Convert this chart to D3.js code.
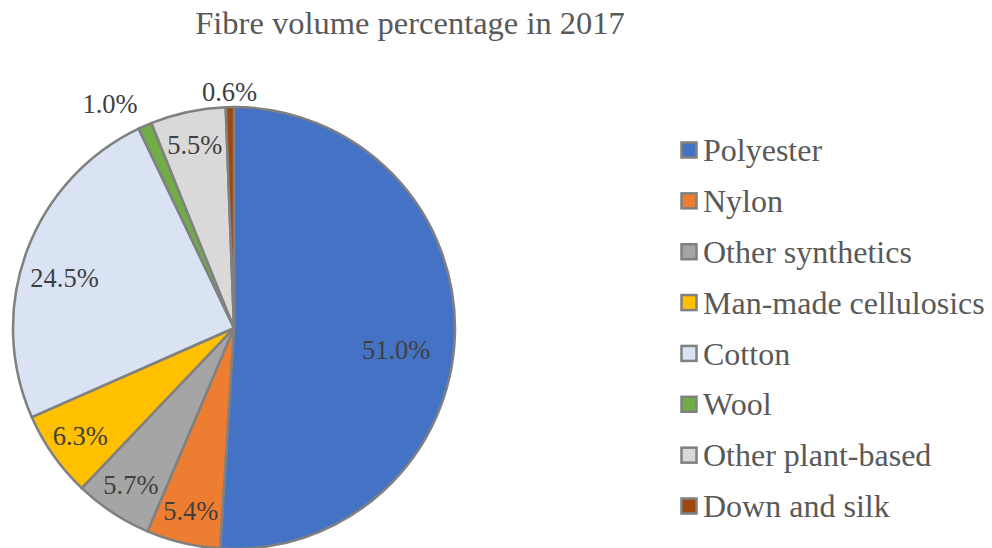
<!DOCTYPE html>
<html>
<head>
<meta charset="utf-8">
<script src="https://cdn.jsdelivr.net/npm/d3@7"></script>
<style>
  html, body { margin: 0; padding: 0; background: #fff; }
  svg { display: block; }
</style>
</head>
<body>
<svg id="chart" width="992" height="548"></svg>
<script>
// Fibre types and their share of total fibre volume (2017, %)
const categories = ["Polyester", "Nylon", "Other synthetics", "Man-made cellulosics",
                    "Cotton", "Wool", "Other plant-based", "Down and silk"];
const shares = [51.0, 5.4, 5.7, 6.3, 24.5, 1.0, 5.5, 0.6];
const sliceColors = ["#4472C4", "#ED7D31", "#A5A5A5", "#FFC000",
                     "#DAE3F3", "#70AD47", "#D9D9D9", "#9E480E"];
const title = "Fibre volume percentage in 2017";

const data = categories.map((c, i) => ({ name: c, value: shares[i] }));

const svg = d3.select("#chart");
const font = "'Liberation Serif', 'Times New Roman', serif";

const cx = 234, cy = 328, r = 221;

svg.append("text")
  .attr("x", 410).attr("y", 34)
  .attr("text-anchor", "middle")
  .attr("font-family", font)
  .attr("font-size", 32.5)
  .attr("fill", "#595959")
  .text(title);

const color = d3.scaleOrdinal().domain(categories).range(sliceColors);

const pie = d3.pie().value(d => d.value).sort(null);
const arcs = pie(data);
const arc = d3.arc().innerRadius(0).outerRadius(r);

const g = svg.append("g").attr("transform", `translate(${cx},${cy})`);

g.selectAll("path.slice")
  .data(arcs)
  .join("path")
  .attr("class", "slice")
  .attr("d", arc)
  .attr("fill", d => color(d.data.name))
  .attr("stroke", "#808080")
  .attr("stroke-width", 2.5)
  .attr("stroke-linejoin", "round");

// Labels: thin slices get their label just outside the rim, the rest sit inside
function labelPos(d) {
  const share = d.data.value;
  let rad, ang = (d.startAngle + d.endAngle) / 2;
  if (share < 2) {
    rad = share < 0.8 ? r * 1.07 : r * 1.16;
    if (share >= 0.8) ang -= 0.09;
  } else if (share > 40) {
    rad = r * 0.74;
    ang += 0.1;
  } else if (share > 10) {
    rad = r * 0.80;
    ang -= 0.066;
  } else {
    rad = r * 0.85;
  }
  return [Math.sin(ang) * rad, -Math.cos(ang) * rad];
}

g.selectAll("text.lbl")
  .data(arcs)
  .join("text")
  .attr("class", "lbl")
  .attr("x", d => labelPos(d)[0])
  .attr("y", d => labelPos(d)[1])
  .attr("dy", "0.35em")
  .attr("text-anchor", "middle")
  .attr("font-family", font)
  .attr("font-size", 26.5)
  .attr("fill", "#404040")
  .text(d => d.data.value.toFixed(1) + "%");

// Legend
const legend = svg.append("g").attr("transform", "translate(680,150)");
const rowY = d3.scalePoint().domain(categories).range([0, 356]);
const rows = legend.selectAll("g.row")
  .data(categories)
  .join("g")
  .attr("class", "row")
  .attr("transform", d => `translate(0,${rowY(d)})`);

rows.append("rect")
  .attr("x", 1.5).attr("y", -7.5)
  .attr("width", 15).attr("height", 15)
  .attr("fill", d => color(d))
  .attr("stroke", "#808080")
  .attr("stroke-width", 2.5);

rows.append("text")
  .attr("x", 23).attr("y", 0)
  .attr("dy", "0.35em")
  .attr("font-family", font)
  .attr("font-size", 32)
  .attr("fill", "#595959")
  .text(d => d);
</script>
</body>
</html>
